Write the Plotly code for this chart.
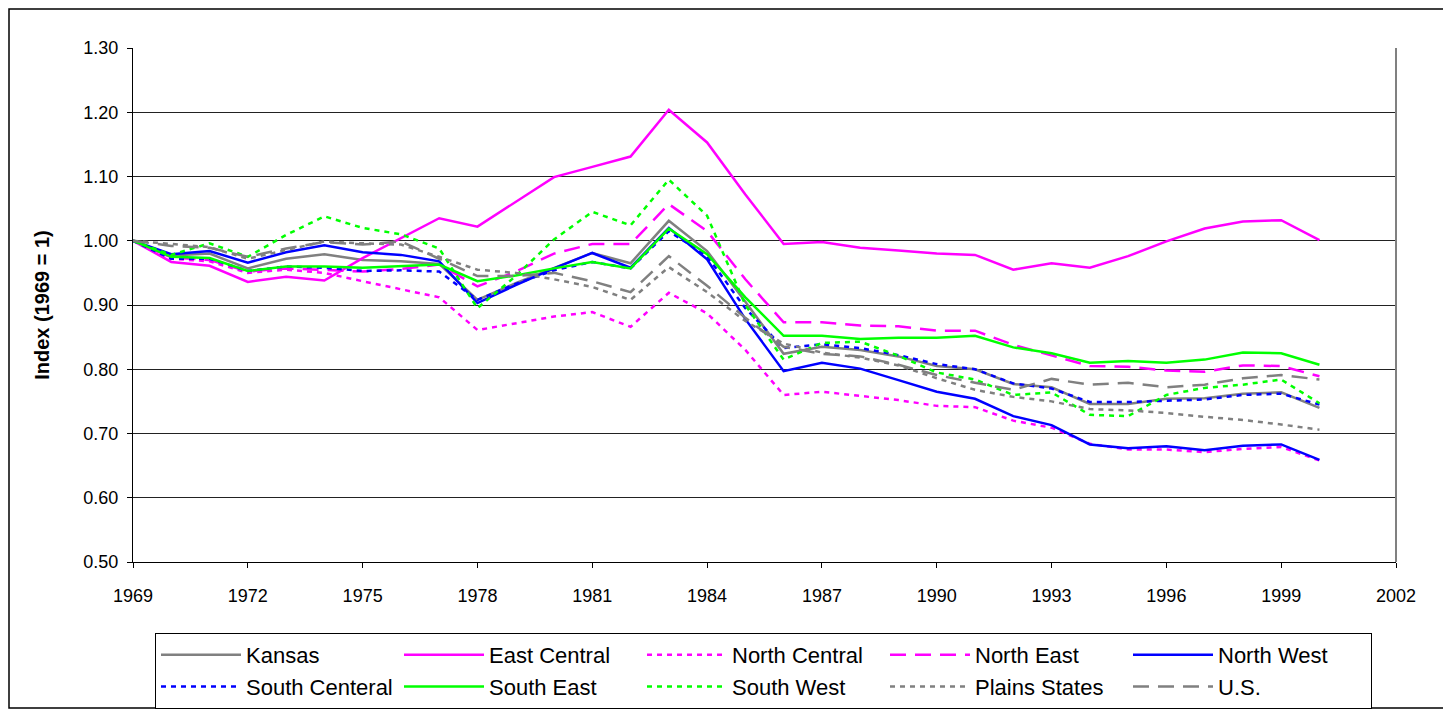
import plotly.graph_objects as go

years = list(range(1969, 2001))

kansas = [1.000, 0.977, 0.980, 0.957, 0.972, 0.979, 0.970, 0.968, 0.964, 0.908,
          0.934, 0.957, 0.981, 0.965, 1.031, 0.984, 0.905, 0.824, 0.835, 0.830,
          0.820, 0.805, 0.800, 0.777, 0.772, 0.746, 0.746, 0.754, 0.755, 0.762,
          0.764, 0.740]
east_central = [1.000, 0.967, 0.961, 0.936, 0.944, 0.938, 0.973, 1.004, 1.035, 1.022,
                1.061, 1.099, 1.115, 1.131, 1.204, 1.153, 1.072, 0.995, 0.998, 0.989,
                0.985, 0.980, 0.978, 0.955, 0.965, 0.958, 0.976, 0.999, 1.019, 1.030,
                1.032, 1.001]
north_central = [1.000, 0.972, 0.968, 0.950, 0.955, 0.950, 0.937, 0.924, 0.912, 0.861,
                 0.871, 0.882, 0.889, 0.866, 0.919, 0.887, 0.830, 0.760, 0.765, 0.758,
                 0.752, 0.743, 0.741, 0.720, 0.709, 0.684, 0.675, 0.675, 0.671, 0.676,
                 0.679, 0.658]
north_east = [1.000, 0.974, 0.970, 0.952, 0.957, 0.954, 0.952, 0.956, 0.963, 0.929,
              0.952, 0.980, 0.995, 0.995, 1.057, 1.015, 0.940, 0.873, 0.873, 0.868,
              0.867, 0.860, 0.860, 0.838, 0.822, 0.805, 0.804, 0.798, 0.796, 0.806,
              0.805, 0.789]
north_west = [1.000, 0.979, 0.984, 0.966, 0.982, 0.993, 0.982, 0.978, 0.968, 0.903,
              0.931, 0.957, 0.981, 0.958, 1.020, 0.971, 0.878, 0.797, 0.810, 0.801,
              0.783, 0.765, 0.754, 0.727, 0.713, 0.683, 0.677, 0.680, 0.674, 0.681,
              0.683, 0.659]
south_central = [1.000, 0.972, 0.972, 0.953, 0.960, 0.958, 0.953, 0.954, 0.952, 0.908,
                 0.933, 0.954, 0.967, 0.957, 1.015, 0.976, 0.895, 0.833, 0.839, 0.833,
                 0.822, 0.808, 0.800, 0.778, 0.770, 0.749, 0.749, 0.751, 0.753, 0.760,
                 0.762, 0.745]
south_east = [1.000, 0.975, 0.973, 0.953, 0.960, 0.960, 0.958, 0.960, 0.963, 0.937,
              0.946, 0.957, 0.967, 0.957, 1.019, 0.979, 0.912, 0.852, 0.852, 0.847,
              0.849, 0.849, 0.852, 0.834, 0.825, 0.810, 0.813, 0.810, 0.815, 0.826,
              0.825, 0.807]
south_west = [1.000, 0.978, 0.996, 0.975, 1.009, 1.038, 1.020, 1.010, 0.988, 0.895,
              0.945, 1.002, 1.045, 1.024, 1.095, 1.039, 0.900, 0.815, 0.841, 0.843,
              0.821, 0.795, 0.784, 0.760, 0.764, 0.729, 0.727, 0.760, 0.771, 0.776,
              0.784, 0.747]
plains_states = [1.000, 0.995, 0.990, 0.972, 0.985, 0.999, 0.996, 0.994, 0.975, 0.955,
                 0.950, 0.940, 0.928, 0.908, 0.959, 0.920, 0.875, 0.840, 0.826, 0.818,
                 0.806, 0.786, 0.768, 0.757, 0.750, 0.738, 0.736, 0.732, 0.726, 0.721,
                 0.714, 0.706]
us = [1.000, 0.992, 0.989, 0.975, 0.988, 0.998, 0.994, 0.999, 0.972, 0.945,
      0.945, 0.950, 0.937, 0.920, 0.976, 0.930, 0.880, 0.835, 0.824, 0.820,
      0.807, 0.791, 0.779, 0.768, 0.785, 0.776, 0.779, 0.772, 0.776, 0.786,
      0.791, 0.784]

series = [
    ("Kansas", kansas, "#808080", "solid"),
    ("East Central", east_central, "#FF00FF", "solid"),
    ("North Central", north_central, "#FF00FF", "5px,5px"),
    ("North East", north_east, "#FF00FF", "16px,9px"),
    ("North West", north_west, "#0000FF", "solid"),
    ("South Centeral", south_central, "#0000FF", "5px,5px"),
    ("South East", south_east, "#00FF00", "solid"),
    ("South West", south_west, "#00FF00", "5px,5px"),
    ("Plains States", plains_states, "#808080", "5px,5px"),
    ("U.S.", us, "#808080", "16px,9px"),
]

x_ticks = list(range(1969, 2003, 3))
y_ticks = [0.5, 0.6, 0.7, 0.8, 0.9, 1.0, 1.1, 1.2, 1.3]

FONT = "Liberation Sans, Arial, sans-serif"

fig = go.Figure()
for name, vals, color, dash in series:
    fig.add_trace(go.Scatter(x=years, y=vals, name=name, mode="lines",
                             line=dict(color=color, width=2.5, dash=dash)))

# page offset from the default body margin
OFF = 8
W, H = 1451 - OFF, 711 - OFF
# target page pixel positions of the plot area
L, R, T, B = 133 - OFF, 1396 - OFF, 48 - OFF, 562 - OFF
pw, ph = R - L, B - T

def px_x(p):
    return (p - OFF - L) / pw

def px_y(p):
    return (B - (p - OFF)) / ph

fig.update_layout(
    width=W, height=H,
    margin=dict(l=L, r=W - R, t=T, b=H - B, pad=0, autoexpand=False),
    paper_bgcolor="white", plot_bgcolor="white",
    font=dict(family=FONT, size=18, color="black"),
    showlegend=True,
    legend=dict(
        orientation="h",
        x=px_x(155), y=px_y(633), xanchor="left", yanchor="top",
        bordercolor="black", borderwidth=1,
        font=dict(size=22, family=FONT),
        entrywidth=148, entrywidthmode="pixels",
        itemwidth=80, tracegroupgap=0,
        traceorder="normal",
    ),
    xaxis=dict(
        range=[1969, 2002], tickmode="array", tickvals=x_ticks,
        ticktext=[str(v) for v in x_ticks],
        showgrid=False, zeroline=False,
        showline=True, linecolor="black", linewidth=1,
        ticks="outside", ticklen=5, tickcolor="black",
        tickfont=dict(size=18), ticklabelstandoff=12,
    ),
    yaxis=dict(
        range=[0.5, 1.3], tickmode="array", tickvals=y_ticks,
        ticktext=[f"{v:.2f}" for v in y_ticks],
        showgrid=True, gridcolor="#222222", gridwidth=1,
        zeroline=False,
        showline=True, linecolor="black", linewidth=1,
        ticks="outside", ticklen=5, tickcolor="black",
        tickfont=dict(size=18), ticklabelstandoff=5,
        title=dict(text="<b>Index (1969 = 1)</b>", font=dict(size=20), standoff=28),
    ),
    shapes=[
        dict(type="line", xref="paper", yref="paper", x0=1, x1=1, y0=0, y1=1,
             line=dict(color="#808080", width=2)),
        dict(type="rect", xref="paper", yref="paper",
             x0=px_x(9), x1=px_x(1447), y0=px_y(708), y1=px_y(9),
             line=dict(color="black", width=1.5)),
    ],
)

fig.write_html("out.html")
